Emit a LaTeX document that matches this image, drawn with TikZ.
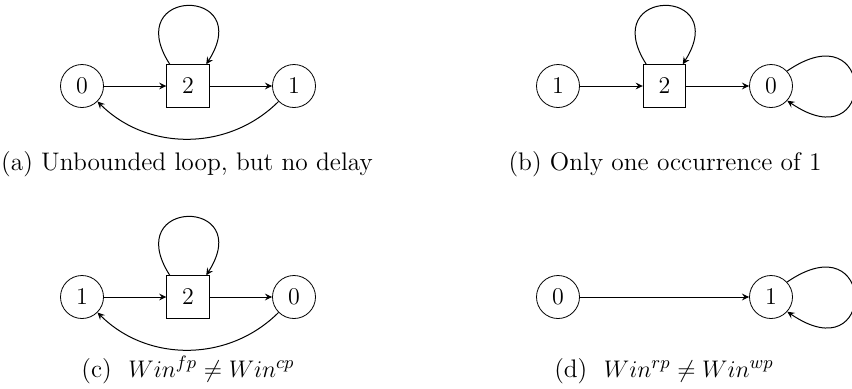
\documentclass[tikz,border=0pt]{standalone}
\usetikzlibrary{arrows.meta}
\begin{document}
\begin{tikzpicture}[x=0.5pt,y=0.5pt,
  >={Stealth[length=3.6pt,width=3.4pt,inset=1.3pt]},
  every node/.style={font=\fontsize{12.7pt}{15pt}\selectfont},
  state/.style={draw,circle,minimum size=21.5pt,inner sep=0pt},
  boxnode/.style={draw,rectangle,minimum size=21.3pt,inner sep=0pt},
  captext/.style={anchor=base},
  arc/.style={->,line width=0.5pt}]
\useasboundingbox (0,0) rectangle (852,388);
% (a)
\node[state]   (a0) at (82,302) {$0$};
\node[boxnode] (a2) at (188,302) {$2$};
\node[state]   (a1) at (294,302) {$1$};
\draw[arc] (a0) -- (a2);
\draw[arc] (a2) -- (a1);
\draw[arc] (a2.130) .. controls +(-50,78) and +(50,78) .. (a2.50);
\draw[arc] (a1) to[out=-135,in=-45] (a0);
\node[captext] (capa) at (187,218) {(a) Unbounded loop, but no delay};
% (b)
\node[state]   (b1) at (558,302) {$1$};
\node[boxnode] (b2) at (664.5,302) {$2$};
\node[state]   (b0) at (771,302) {$0$};
\draw[arc] (b1) -- (b2);
\draw[arc] (b2) -- (b0);
\draw[arc] (b2.130) .. controls +(-50,78) and +(50,78) .. (b2.50);
\draw[arc] (b0.43) .. controls +(90,62) and +(90,-62) .. (b0.-42);
\node[captext] (capb) at (665,218) {(b) Only one occurrence of 1};
% (c)
\node[state]   (c1) at (82,91) {$1$};
\node[boxnode] (c2) at (188,91) {$2$};
\node[state]   (c0) at (294,91) {$0$};
\draw[arc] (c1) -- (c2);
\draw[arc] (c2) -- (c0);
\draw[arc] (c2.130) .. controls +(-50,78) and +(50,78) .. (c2.50);
\draw[arc] (c0) to[out=-135,in=-45] (c1);
\node[captext] (capc) at (188,11) {(c)\ \ $Win^{fp} \neq Win^{cp}$};
% (d)
\node[state]   (d0) at (558,91) {$0$};
\node[state]   (d1) at (771,91) {$1$};
\draw[arc] (d0) -- (d1);
\draw[arc] (d1.43) .. controls +(90,62) and +(90,-62) .. (d1.-42);
\node[captext] (capd) at (664,11) {(d)\ \ $Win^{rp} \neq Win^{wp}$};
\end{tikzpicture}
\end{document}
